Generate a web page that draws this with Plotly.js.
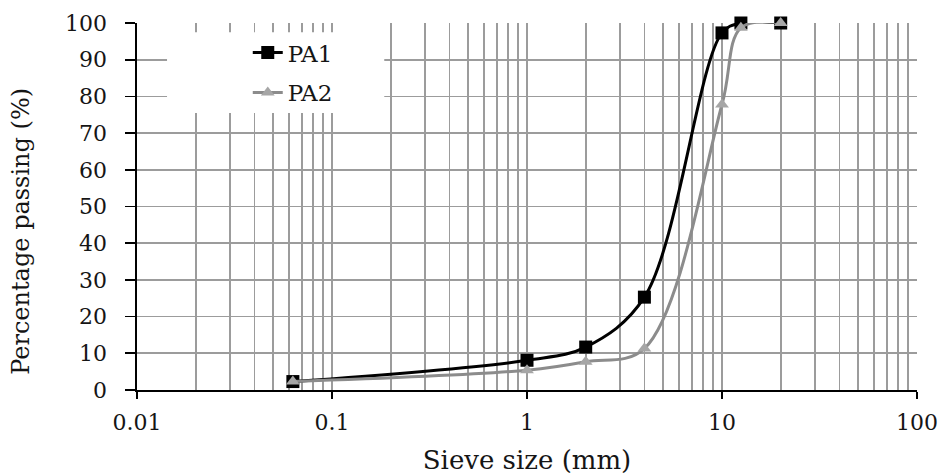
<!DOCTYPE html>
<html>
<head>
<meta charset="utf-8">
<script src="https://cdn.plot.ly/plotly-3.0.1.min.js"></script>
<style>html,body{margin:0;padding:0;background:#fff;}#chart{width:942px;height:475px;}</style>
</head>
<body>
<div id="chart"></div>
<script>
const sieveSizes = [0.063, 1, 2, 4, 10, 12.5, 20];
const pa1 = [2.3, 8.1, 11.7, 25.3, 97.3, 100, 100];
const pa2 = [2.3, 5.4, 7.7, 11.3, 77.8, 98.7, 100];
const seriesNames = ['PA1', 'PA2'];
const yTicks = [0,10,20,30,40,50,60,70,80,90,100];
const xTicks = [0.01, 0.1, 1, 10, 100];
const xTickLabels = ['0.01', '0.1', '1', '10', '100'];
const yTitle = 'Percentage passing (%)';
const xTitle = 'Sieve size (mm)';

// minor log gridlines: 2..9 within each decade
const minorVals = [];
for (let d = 0; d < xTicks.length - 1; d++) {
  for (let m = 2; m <= 9; m++) minorVals.push(xTicks[d] * m);
}

const gridColor = '#9c9c9c';
const font = 'DejaVu Serif, serif';
const textColor = '#151515';

const traces = [
  {
    x: sieveSizes, y: pa1, name: seriesNames[0], legendgroup: 'a', type: 'scatter', mode: 'lines+markers',
    line: {color: '#000', width: 3, shape: 'spline', smoothing: 1},
    marker: {symbol: 'square', size: 13, color: '#000'},
    cliponaxis: false
  },
  {
    x: sieveSizes, y: pa2, name: seriesNames[1], legendgroup: 'b', type: 'scatter', mode: 'lines+markers',
    line: {color: '#8c8c8c', width: 3, shape: 'spline', smoothing: 1},
    marker: {symbol: 'triangle-up', size: 12, color: '#a6a6a6'},
    cliponaxis: false
  }
];

const layout = {
  width: 942, height: 475,
  margin: {l: 137, r: 25, t: 23, b: 85},
  paper_bgcolor: '#fff', plot_bgcolor: '#fff',
  font: {family: font, color: textColor, size: 22},
  showlegend: true,
  legend: {
    x: 0.142, y: 0.978, xanchor: 'left', yanchor: 'top',
    bgcolor: 'rgba(0,0,0,0)', borderwidth: 0,
    font: {family: font, size: 23, color: textColor},
    traceorder: 'grouped', tracegroupgap: 7
  },
  shapes: [
    {type: 'rect', xref: 'paper', yref: 'paper', x0: 0.0385, x1: 0.317, y0: 0.755, y1: 0.975,
     fillcolor: '#fff', line: {width: 0}, layer: 'above'}
  ],
  annotations: [
    {text: yTitle, xref: 'paper', yref: 'paper', x: -0.149, y: 0.433, textangle: -90,
     showarrow: false, xanchor: 'center', yanchor: 'middle',
     font: {family: font, size: 24, color: textColor}}
  ],
  xaxis: {
    type: 'log', range: [-2, 2],
    tickvals: xTicks, ticktext: xTickLabels,
    showgrid: true, gridcolor: gridColor, gridwidth: 1.6,
    minor: {tickmode: 'array', tickvals: minorVals, showgrid: true, gridcolor: gridColor, gridwidth: 1.6, ticks: ''},
    showline: true, linecolor: '#000', linewidth: 1.6, mirror: false,
    ticks: 'outside', ticklen: 7, tickcolor: '#000', tickwidth: 1.6,
    ticklabelstandoff: 5,
    zeroline: false,
    tickfont: {family: font, size: 22, color: textColor},
    title: {text: xTitle, font: {family: font, size: 26, color: textColor}, standoff: 18}
  },
  yaxis: {
    range: [0, 100], tickvals: yTicks,
    showgrid: true, gridcolor: gridColor, gridwidth: 1.6,
    showline: true, linecolor: '#000', linewidth: 1.6,
    ticks: 'outside', ticklen: 10, tickcolor: '#000', tickwidth: 1.6,
    ticklabelstandoff: 14,
    zeroline: false,
    tickfont: {family: font, size: 22, color: textColor}
  }
};

Plotly.newPlot('chart', traces, layout, {displayModeBar: false, staticPlot: true});
</script>
</body>
</html>
